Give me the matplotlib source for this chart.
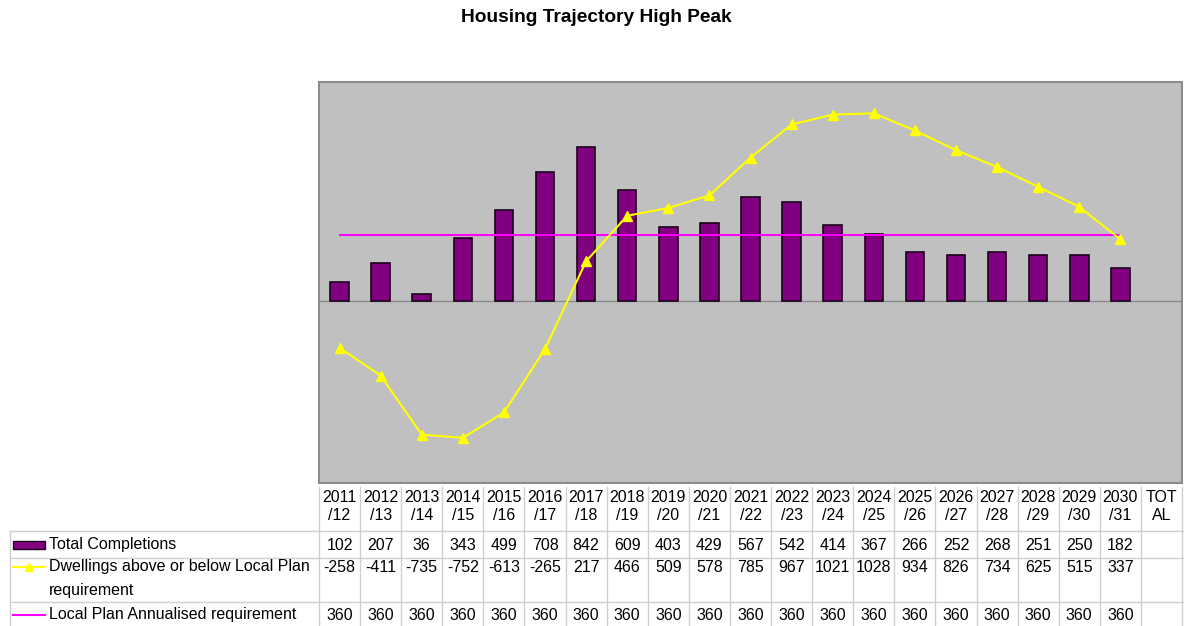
import matplotlib.pyplot as plt
import matplotlib.transforms as mtransforms
from matplotlib.patches import Rectangle
from matplotlib.lines import Line2D

plt.rcParams['font.family'] = ['Liberation Sans', 'DejaVu Sans']

# data
years = ['2011\n/12', '2012\n/13', '2013\n/14', '2014\n/15', '2015\n/16', '2016\n/17', '2017\n/18',
         '2018\n/19', '2019\n/20', '2020\n/21', '2021\n/22', '2022\n/23', '2023\n/24', '2024\n/25',
         '2025\n/26', '2026\n/27', '2027\n/28', '2028\n/29', '2029\n/30', '2030\n/31']
total_label = 'TOT\nAL'
completions = [102, 207, 36, 343, 499, 708, 842, 609, 403, 429, 567, 542, 414, 367, 266, 252, 268, 251, 250, 182]
dwellings = [-258, -411, -735, -752, -613, -265, 217, 466, 509, 578, 785, 967, 1021, 1028, 934, 826, 734, 625, 515, 337]
requirement = [360] * 20
series_names = ['Total Completions', 'Dwellings above or below Local Plan\nrequirement',
                'Local Plan Annualised requirement']

W, H = 1184, 626
BAR_C = '#800080'
LINE_C = '#FFFF00'
REQ_C = '#FF00FF'
GRID_C = '#CFCFCF'

fig = plt.figure(figsize=(W / 100, H / 100), dpi=100)
fig.patch.set_facecolor('white')

ax = fig.add_axes([319 / W, 1 - 483 / H, 863 / W, (483 - 82) / H])
ax.set_facecolor('#C0C0C0')
x = list(range(len(years)))
ax.bar(x, completions, width=0.45, color=BAR_C, edgecolor='#1a001a', linewidth=1.2, zorder=3)
ax.axhline(0, color='#8c8c8c', lw=1, zorder=2)
ax.plot(x, requirement, color=REQ_C, lw=1.5, zorder=4)
ax.plot(x, dwellings, color=LINE_C, lw=1.5, marker='^', markersize=7.5, zorder=5)
ax.set_xlim(-0.5, len(years) + 0.5)
ax.set_ylim(-1000, 1200)
ax.set_xticks([])
ax.set_yticks([])
for s in ax.spines.values():
    s.set_color('#8c8c8c')
    s.set_linewidth(1.5)

fig.text(596 / W, 1 - 18 / H, 'Housing Trajectory High Peak', ha='center', va='center',
         fontsize=13.8, fontweight='bold')

# data table below the plot
tr = mtransforms.blended_transform_factory(ax.transData, fig.transFigure)


def fy(p):
    return 1 - p / H


ncol = len(years) + 1
# vertical column lines
for i in range(ncol + 1):
    fig.add_artist(Line2D([i - 0.5, i - 0.5], [fy(487), 0], transform=tr, color=GRID_C, lw=1))
fig.add_artist(Line2D([10 / W, 10 / W], [fy(531), 0], transform=fig.transFigure, color=GRID_C, lw=1))
for yp in [531, 558, 602]:
    fig.add_artist(Line2D([10 / W, 1], [fy(yp), fy(yp)], transform=fig.transFigure, color=GRID_C, lw=1))

fs = 11.5
for i, lab in enumerate(years + [total_label]):
    top, bot = lab.split('\n')
    fig.text(i, fy(497), top, transform=tr, ha='center', va='center', fontsize=fs)
    fig.text(i, fy(516), bot, transform=tr, ha='center', va='center', fontsize=fs)

rows = [(completions, 545), (dwellings, 567), (requirement, 615)]
for vals, yp in rows:
    for i, v in enumerate(vals):
        fig.text(i, fy(yp), str(v), transform=tr, ha='center', va='center', fontsize=fs)

# row labels with legend keys
fig.text(49 / W, fy(545), series_names[0], ha='left', va='center', fontsize=fs)
fig.text(49 / W, fy(567), series_names[1].split('\n')[0], ha='left', va='center', fontsize=fs)
fig.text(49 / W, fy(590), series_names[1].split('\n')[1], ha='left', va='center', fontsize=fs)
fig.text(49 / W, fy(615), series_names[2], ha='left', va='center', fontsize=fs)

fig.add_artist(Rectangle((13 / W, fy(549)), 32 / W, 8 / H, transform=fig.transFigure,
                         facecolor=BAR_C, edgecolor='#1a001a', lw=1))
fig.add_artist(Line2D([13 / W, 45 / W], [fy(567), fy(567)], transform=fig.transFigure,
                      color=LINE_C, lw=1.5))
fig.add_artist(Line2D([29 / W], [fy(567)], transform=fig.transFigure, color=LINE_C,
                      marker='^', markersize=6, lw=0))
fig.add_artist(Line2D([13 / W, 45 / W], [fy(615), fy(615)], transform=fig.transFigure,
                      color=REQ_C, lw=1.5))

fig.savefig('out.png', dpi=100)
